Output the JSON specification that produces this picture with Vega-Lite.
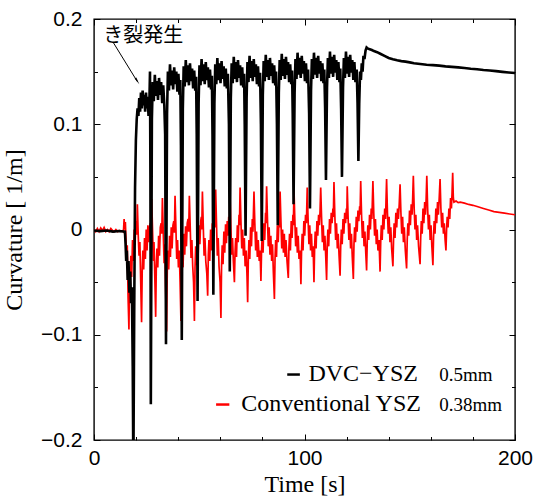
{
"$schema": "https://vega.github.io/schema/vega-lite/v6.json",
"width": 421, "height": 421,
"autosize": {"type": "none"},
"padding": {"left": 94, "top": 19, "right": 21, "bottom": 58},
"background": "white",
"config": {
  "view": {"stroke": "black", "strokeWidth": 1.4},
  "axis": {"domain": false, "grid": false, "tickColor": "black", "tickWidth": 1, "labelColor": "black", "labelFont": "Liberation Sans", "labelFontSize": 21, "labelFlush": false, "labelOverlap": false, "titleFont": "Liberation Serif", "titleFontSize": 24, "titleFontWeight": "normal", "titleColor": "black"}
},
"datasets": {
  "red": [
{"t":0,"v":0.0},{"t":0.8,"v":-0.002},{"t":1.6,"v":0.001},{"t":2.4,"v":-0.002},{"t":3.2,"v":0.0015},{"t":4.0,"v":-0.001},{"t":4.8,"v":0.002},{"t":5.6,"v":-0.002},{"t":6.4,"v":0.0},{"t":7.2,"v":-0.002},{"t":8.0,"v":0.001},{"t":8.8,"v":-0.001},{"t":9.6,"v":-0.002},{"t":10.4,"v":0.0},{"t":11.2,"v":-0.002},{"t":12.0,"v":-0.001},{"t":12.8,"v":-0.002},{"t":13.6,"v":-0.001},{"t":14.0,"v":-0.002},{"t":14.3,"v":0.010},{"t":14.6,"v":0.0},{"t":14.9,"v":0.007},{"t":15.2,"v":-0.01},{"t":15.5,"v":-0.03},{"t":15.8,"v":-0.015},{"t":16.2,"v":-0.065},{"t":16.6,"v":-0.095},{"t":16.9,"v":-0.04},{"t":17.2,"v":-0.06},{"t":17.5,"v":-0.025},{"t":17.9,"v":-0.045},{"t":18.3,"v":-0.01},{"t":18.7,"v":-0.03},{"t":19.1,"v":0.0},{"t":19.5,"v":-0.015},{"t":19.9,"v":0.008},{"t":20.3,"v":-0.005},{"t":20.6,"v":0.024},{"t":21.0,"v":-0.005},{"t":21.4,"v":-0.025},{"t":21.8,"v":-0.012},{"t":22.2,"v":-0.05},{"t":22.6,"v":-0.088},
{"t":22.9,"v":-0.04},{"t":23.2,"v":-0.02},{"t":23.6,"v":-0.038},{"t":24.0,"v":-0.008},{"t":24.4,"v":-0.028},{"t":24.8,"v":0.0},{"t":25.2,"v":-0.02},{"t":25.6,"v":0.004},{"t":26.0,"v":-0.012},{"t":26.4,"v":0.002},{"t":26.8,"v":0.006},{"t":27.1,"v":-0.004},{"t":27.4,"v":0.029},{"t":27.8,"v":0.0},{"t":28.2,"v":-0.03},{"t":28.5,"v":-0.012},{"t":28.9,"v":-0.046},{"t":29.3,"v":-0.083},
{"t":29.6,"v":-0.035},{"t":29.9,"v":-0.018},{"t":30.3,"v":-0.036},{"t":30.7,"v":-0.006},{"t":31.1,"v":-0.025},{"t":31.5,"v":0.002},{"t":31.9,"v":0.006},{"t":32.2,"v":-0.004},{"t":32.5,"v":0.03},{"t":32.9,"v":-0.002},{"t":33.3,"v":-0.032},{"t":33.6,"v":-0.014},{"t":34.0,"v":-0.055},{"t":34.5,"v":-0.097},
{"t":34.8,"v":-0.04},{"t":35.1,"v":-0.02},{"t":35.5,"v":-0.038},{"t":35.9,"v":-0.006},{"t":36.3,"v":-0.026},{"t":36.7,"v":0.002},{"t":37.1,"v":-0.018},{"t":37.5,"v":0.004},{"t":37.9,"v":0.008},{"t":38.2,"v":-0.003},{"t":38.5,"v":0.032},{"t":38.9,"v":0.002},{"t":39.3,"v":-0.028},{"t":39.7,"v":-0.01},{"t":40.1,"v":-0.036},{"t":40.5,"v":-0.02},{"t":40.9,"v":-0.05},{"t":41.3,"v":-0.087},
{"t":41.6,"v":-0.038},{"t":41.9,"v":-0.018},{"t":42.3,"v":-0.036},{"t":42.7,"v":-0.004},{"t":43.1,"v":-0.024},{"t":43.5,"v":0.003},{"t":43.9,"v":-0.016},{"t":44.3,"v":0.006},{"t":44.7,"v":0.01},{"t":45.0,"v":-0.002},{"t":45.3,"v":0.032},{"t":45.7,"v":0.003},{"t":46.1,"v":-0.027},{"t":46.5,"v":-0.01},{"t":46.9,"v":-0.035},{"t":47.3,"v":-0.05},{"t":47.7,"v":-0.087},
{"t":48.0,"v":-0.036},{"t":48.3,"v":-0.016},{"t":48.7,"v":-0.034},{"t":49.1,"v":-0.003},{"t":49.5,"v":-0.022},{"t":49.9,"v":0.004},{"t":50.3,"v":-0.014},{"t":50.7,"v":0.008},{"t":51.0,"v":0.012},{"t":51.2,"v":0.0},{"t":51.5,"v":0.036},{"t":51.9,"v":0.004},{"t":52.3,"v":-0.025},{"t":52.7,"v":-0.008},{"t":53.1,"v":-0.03},{"t":53.6,"v":-0.042},{"t":54.0,"v":-0.063},
{"t":54.3,"v":-0.025},{"t":54.6,"v":-0.01},{"t":55.0,"v":-0.03},{"t":55.4,"v":0.0},{"t":55.8,"v":-0.02},{"t":56.2,"v":0.006},{"t":56.6,"v":-0.012},{"t":57.0,"v":0.01},{"t":57.3,"v":0.014},{"t":57.5,"v":0.002},{"t":57.8,"v":0.038},{"t":58.2,"v":0.005},{"t":58.6,"v":-0.025},{"t":59.0,"v":-0.008},{"t":59.4,"v":-0.035},{"t":59.9,"v":-0.05},{"t":60.3,"v":-0.084},
{"t":60.6,"v":-0.035},{"t":60.9,"v":-0.015},{"t":61.3,"v":-0.033},{"t":61.7,"v":-0.002},{"t":62.1,"v":-0.022},{"t":62.5,"v":0.005},{"t":62.9,"v":-0.013},{"t":63.3,"v":0.008},{"t":63.7,"v":-0.006},{"t":64.0,"v":0.012},{"t":64.3,"v":0.0},{"t":64.6,"v":0.035},{"t":65.0,"v":0.004},{"t":65.4,"v":-0.024},{"t":65.8,"v":-0.008},{"t":66.2,"v":-0.03},{"t":66.7,"v":-0.05},
{"t":67.0,"v":-0.022},{"t":67.3,"v":-0.008},{"t":67.7,"v":-0.026},{"t":68.1,"v":0.004},{"t":68.5,"v":-0.012},{"t":68.9,"v":0.014},{"t":69.1,"v":0.004},{"t":69.4,"v":0.04},{"t":69.8,"v":0.008},{"t":70.2,"v":-0.018},{"t":70.6,"v":0.0},{"t":71.0,"v":-0.025},{"t":71.4,"v":-0.008},{"t":71.8,"v":-0.035},{"t":72.3,"v":-0.02},{"t":72.7,"v":-0.045},{"t":73.0,"v":-0.069},
{"t":73.3,"v":-0.03},{"t":73.6,"v":-0.01},{"t":74.0,"v":-0.028},{"t":74.4,"v":0.002},{"t":74.8,"v":-0.016},{"t":75.2,"v":0.01},{"t":75.5,"v":-0.002},{"t":75.7,"v":0.012},{"t":76.0,"v":0.036},{"t":76.4,"v":0.006},{"t":76.8,"v":-0.02},{"t":77.2,"v":-0.002},{"t":77.6,"v":-0.026},{"t":78.0,"v":-0.01},{"t":78.5,"v":-0.03},{"t":78.9,"v":-0.02},{"t":79.3,"v":-0.049},
{"t":79.6,"v":-0.02},{"t":79.9,"v":-0.006},{"t":80.3,"v":-0.022},{"t":80.7,"v":0.006},{"t":81.1,"v":-0.01},{"t":81.5,"v":0.016},{"t":81.7,"v":0.006},{"t":82.0,"v":0.041},{"t":82.4,"v":0.01},{"t":82.8,"v":-0.016},{"t":83.2,"v":0.002},{"t":83.6,"v":-0.024},{"t":84.0,"v":-0.006},{"t":84.4,"v":-0.03},{"t":84.8,"v":-0.014},{"t":85.2,"v":-0.04},{"t":85.7,"v":-0.066},
{"t":86.0,"v":-0.028},{"t":86.3,"v":-0.01},{"t":86.7,"v":-0.026},{"t":87.1,"v":0.004},{"t":87.5,"v":-0.012},{"t":87.9,"v":0.012},{"t":88.1,"v":0.002},{"t":88.4,"v":0.036},{"t":88.8,"v":0.008},{"t":89.2,"v":-0.018},{"t":89.6,"v":0.0},{"t":90.0,"v":-0.022},{"t":90.4,"v":-0.004},{"t":90.8,"v":-0.026},{"t":91.2,"v":-0.01},{"t":91.7,"v":-0.03},{"t":92.3,"v":-0.046},
{"t":92.6,"v":-0.018},{"t":92.9,"v":-0.004},{"t":93.3,"v":-0.02},{"t":93.7,"v":0.008},{"t":94.1,"v":-0.008},{"t":94.5,"v":0.014},{"t":94.7,"v":0.004},{"t":95.0,"v":0.038},{"t":95.4,"v":0.01},{"t":95.8,"v":-0.016},{"t":96.2,"v":0.002},{"t":96.6,"v":-0.022},{"t":97.0,"v":-0.006},{"t":97.4,"v":-0.028},{"t":97.9,"v":-0.02},{"t":98.3,"v":-0.052},
{"t":98.6,"v":-0.02},{"t":98.9,"v":-0.004},{"t":99.3,"v":-0.02},{"t":99.7,"v":0.008},{"t":100.1,"v":-0.006},{"t":100.5,"v":0.014},{"t":100.9,"v":0.006},{"t":101.3,"v":0.04},{"t":101.7,"v":0.01},{"t":102.1,"v":-0.014},{"t":102.5,"v":0.004},{"t":102.9,"v":-0.02},{"t":103.3,"v":-0.004},{"t":103.7,"v":-0.026},{"t":104.1,"v":-0.016},{"t":104.5,"v":-0.05},
{"t":104.8,"v":-0.018},{"t":105.1,"v":-0.002},{"t":105.5,"v":-0.018},{"t":105.9,"v":0.008},{"t":106.3,"v":-0.006},{"t":106.7,"v":0.014},{"t":107.1,"v":0.004},{"t":107.4,"v":0.018},{"t":107.7,"v":0.04},{"t":108.1,"v":0.012},{"t":108.5,"v":-0.012},{"t":108.9,"v":0.004},{"t":109.3,"v":-0.02},{"t":109.7,"v":-0.006},{"t":110.1,"v":-0.026},{"t":110.5,"v":-0.048},
{"t":110.8,"v":-0.016},{"t":111.1,"v":0.0},{"t":111.5,"v":-0.016},{"t":111.9,"v":0.01},{"t":112.3,"v":-0.004},{"t":112.7,"v":0.016},{"t":113.1,"v":0.006},{"t":113.5,"v":0.02},{"t":113.7,"v":0.012},{"t":114.0,"v":0.045},{"t":114.4,"v":0.014},{"t":114.8,"v":-0.01},{"t":115.2,"v":0.006},{"t":115.6,"v":-0.018},{"t":116.0,"v":-0.004},{"t":116.4,"v":-0.024},{"t":116.9,"v":-0.044},
{"t":117.2,"v":-0.016},{"t":117.5,"v":0.0},{"t":117.9,"v":-0.014},{"t":118.3,"v":0.01},{"t":118.7,"v":-0.004},{"t":119.1,"v":0.016},{"t":119.5,"v":0.006},{"t":119.9,"v":0.02},{"t":120.1,"v":0.01},{"t":120.3,"v":0.041},{"t":120.7,"v":0.012},{"t":121.1,"v":-0.01},{"t":121.5,"v":0.006},{"t":121.9,"v":-0.018},{"t":122.3,"v":-0.004},{"t":122.7,"v":-0.026},{"t":123.2,"v":-0.047},
{"t":123.5,"v":-0.014},{"t":123.8,"v":0.002},{"t":124.2,"v":-0.012},{"t":124.6,"v":0.012},{"t":125.0,"v":-0.002},{"t":125.4,"v":0.018},{"t":125.8,"v":0.008},{"t":126.2,"v":0.022},{"t":126.4,"v":0.014},{"t":126.7,"v":0.046},{"t":127.1,"v":0.014},{"t":127.5,"v":-0.008},{"t":127.9,"v":0.008},{"t":128.3,"v":-0.016},{"t":128.7,"v":-0.002},{"t":129.1,"v":-0.022},{"t":129.5,"v":-0.039},
{"t":129.8,"v":-0.012},{"t":130.1,"v":0.004},{"t":130.5,"v":-0.01},{"t":130.9,"v":0.014},{"t":131.3,"v":0.0},{"t":131.7,"v":0.02},{"t":132.0,"v":0.01},{"t":132.2,"v":0.024},{"t":132.5,"v":0.046},{"t":132.9,"v":0.016},{"t":133.3,"v":-0.006},{"t":133.7,"v":0.01},{"t":134.1,"v":-0.014},{"t":134.5,"v":0.0},{"t":134.9,"v":-0.02},{"t":135.4,"v":-0.01},{"t":135.9,"v":-0.04},
{"t":136.2,"v":-0.012},{"t":136.5,"v":0.004},{"t":136.9,"v":-0.01},{"t":137.3,"v":0.014},{"t":137.7,"v":0.0},{"t":138.1,"v":0.02},{"t":138.5,"v":0.01},{"t":138.7,"v":0.026},{"t":139.0,"v":0.048},{"t":139.4,"v":0.016},{"t":139.8,"v":-0.004},{"t":140.2,"v":0.012},{"t":140.6,"v":-0.012},{"t":141.0,"v":0.002},{"t":141.4,"v":-0.018},{"t":142.0,"v":-0.035},
{"t":142.3,"v":-0.01},{"t":142.6,"v":0.006},{"t":143.0,"v":-0.008},{"t":143.4,"v":0.016},{"t":143.8,"v":0.002},{"t":144.2,"v":0.02},{"t":144.6,"v":0.01},{"t":145.0,"v":0.024},{"t":145.4,"v":0.043},{"t":145.8,"v":0.016},{"t":146.2,"v":-0.004},{"t":146.6,"v":0.012},{"t":147.0,"v":-0.012},{"t":147.4,"v":0.002},{"t":147.9,"v":-0.02},{"t":148.5,"v":-0.037},
{"t":148.8,"v":-0.01},{"t":149.1,"v":0.006},{"t":149.5,"v":-0.006},{"t":149.9,"v":0.018},{"t":150.3,"v":0.004},{"t":150.7,"v":0.024},{"t":151.1,"v":0.014},{"t":151.4,"v":0.03},{"t":151.7,"v":0.051},{"t":152.1,"v":0.02},{"t":152.5,"v":0.0},{"t":152.9,"v":0.014},{"t":153.3,"v":-0.01},{"t":153.7,"v":0.004},{"t":154.2,"v":-0.016},{"t":154.9,"v":-0.033},
{"t":155.2,"v":-0.008},{"t":155.5,"v":0.008},{"t":155.9,"v":-0.004},{"t":156.3,"v":0.02},{"t":156.7,"v":0.006},{"t":157.1,"v":0.026},{"t":157.5,"v":0.014},{"t":157.8,"v":0.03},{"t":158.1,"v":0.051},{"t":158.5,"v":0.02},{"t":158.9,"v":0.0},{"t":159.3,"v":0.014},{"t":159.7,"v":-0.01},{"t":160.1,"v":0.004},{"t":160.5,"v":-0.016},{"t":161.0,"v":-0.034},
{"t":161.3,"v":-0.008},{"t":161.6,"v":0.008},{"t":162.0,"v":-0.004},{"t":162.4,"v":0.02},{"t":162.8,"v":0.006},{"t":163.2,"v":0.026},{"t":163.6,"v":0.014},{"t":164.0,"v":0.03},{"t":164.4,"v":0.048},{"t":164.8,"v":0.02},{"t":165.2,"v":0.002},{"t":165.6,"v":0.016},{"t":166.0,"v":-0.004},{"t":166.4,"v":0.006},{"t":166.8,"v":-0.01},{"t":167.2,"v":-0.02},
{"t":167.5,"v":0.0},{"t":167.8,"v":0.012},{"t":168.2,"v":0.002},{"t":168.6,"v":0.02},{"t":169.0,"v":0.01},{"t":169.4,"v":0.03},{"t":169.8,"v":0.02},{"t":170.1,"v":0.035},{"t":170.4,"v":0.054},{"t":170.7,"v":0.03},{"t":171.0,"v":0.026},{"t":172.0,"v":0.027},{"t":173.0,"v":0.0255},{"t":174.0,"v":0.026},{"t":176.0,"v":0.025},{"t":178.0,"v":0.0238},{"t":180.0,"v":0.023},{"t":182.0,"v":0.0218},{"t":185.0,"v":0.02},{"t":187.5,"v":0.0185},{"t":190.0,"v":0.017},{"t":192.5,"v":0.0162},{"t":195.0,"v":0.0155},{"t":197.5,"v":0.0147},{"t":200.0,"v":0.014}
  ],
  "black": [
{"t":0,"v":-0.001},{"t":3,"v":-0.0015},{"t":6,"v":-0.001},{"t":9,"v":-0.002},{"t":12,"v":-0.0015},{"t":14.7,"v":-0.002},{"t":15.0,"v":-0.014},{"t":15.3,"v":-0.03},{"t":15.6,"v":-0.02},{"t":16.0,"v":-0.048},{"t":16.4,"v":-0.03},{"t":16.8,"v":-0.06},{"t":17.2,"v":-0.04},{"t":17.6,"v":-0.07},{"t":18.0,"v":-0.055},{"t":18.4,"v":-0.13},{"t":18.7,"v":-0.23},{"t":19.1,"v":-0.08},{"t":19.5,"v":0.04},{"t":19.9,"v":0.085},{"t":20.3,"v":0.105},{"t":20.7,"v":0.115},{"t":21.1,"v":0.108},{"t":21.5,"v":0.125},{"t":21.9,"v":0.112},{"t":22.3,"v":0.13},{"t":22.7,"v":0.115},{"t":23.1,"v":0.132},{"t":23.5,"v":0.118},{"t":23.9,"v":0.128},{"t":24.3,"v":0.112},{"t":24.7,"v":0.13},{"t":25.1,"v":0.115},{"t":25.5,"v":0.126},{"t":25.9,"v":0.108},{"t":26.3,"v":0.12},{"t":26.6,"v":0.15},{"t":26.8,"v":0.05},{"t":27.0,"v":-0.166},
{"t":27.5,"v":0.105},{"t":27.9,"v":0.14},{"t":28.4,"v":0.122},{"t":28.9,"v":0.147},{"t":29.4,"v":0.127},{"t":29.9,"v":0.141},{"t":30.4,"v":0.123},{"t":30.9,"v":0.144},{"t":31.4,"v":0.128},{"t":31.9,"v":0.14},{"t":32.4,"v":0.12},{"t":32.9,"v":0.137},{"t":33.4,"v":0.118},{"t":33.8,"v":0.09},{"t":34.2,"v":-0.109},
{"t":34.7,"v":0.11},{"t":35.1,"v":0.15},{"t":35.6,"v":0.132},{"t":36.1,"v":0.157},{"t":36.6,"v":0.137},{"t":37.1,"v":0.151},{"t":37.6,"v":0.133},{"t":38.1,"v":0.154},{"t":38.6,"v":0.138},{"t":39.1,"v":0.15},{"t":39.6,"v":0.131},{"t":40.1,"v":0.148},{"t":40.6,"v":0.128},{"t":41.0,"v":0.142},{"t":41.3,"v":0.08},{"t":41.7,"v":-0.105},
{"t":42.2,"v":0.115},{"t":42.6,"v":0.155},{"t":43.1,"v":0.136},{"t":43.6,"v":0.161},{"t":44.1,"v":0.14},{"t":44.6,"v":0.156},{"t":45.1,"v":0.137},{"t":45.6,"v":0.158},{"t":46.1,"v":0.141},{"t":46.6,"v":0.153},{"t":47.1,"v":0.134},{"t":47.6,"v":0.151},{"t":48.1,"v":0.132},{"t":48.5,"v":0.145},{"t":48.8,"v":0.09},{"t":49.2,"v":-0.068},
{"t":49.7,"v":0.12},{"t":50.1,"v":0.156},{"t":50.6,"v":0.137},{"t":51.1,"v":0.162},{"t":51.6,"v":0.141},{"t":52.1,"v":0.157},{"t":52.6,"v":0.138},{"t":53.1,"v":0.159},{"t":53.6,"v":0.142},{"t":54.1,"v":0.154},{"t":54.6,"v":0.135},{"t":55.1,"v":0.152},{"t":55.6,"v":0.133},{"t":56.0,"v":0.146},{"t":56.3,"v":0.09},{"t":56.7,"v":-0.062},
{"t":57.2,"v":0.12},{"t":57.6,"v":0.157},{"t":58.1,"v":0.138},{"t":58.6,"v":0.163},{"t":59.1,"v":0.142},{"t":59.6,"v":0.158},{"t":60.1,"v":0.139},{"t":60.6,"v":0.16},{"t":61.1,"v":0.143},{"t":61.6,"v":0.155},{"t":62.1,"v":0.136},{"t":62.6,"v":0.153},{"t":63.1,"v":0.134},{"t":63.6,"v":0.148},{"t":64.1,"v":0.1},{"t":64.5,"v":-0.04},
{"t":65.0,"v":0.125},{"t":65.4,"v":0.158},{"t":65.9,"v":0.139},{"t":66.4,"v":0.164},{"t":66.9,"v":0.143},{"t":67.4,"v":0.159},{"t":67.9,"v":0.14},{"t":68.4,"v":0.161},{"t":68.9,"v":0.144},{"t":69.4,"v":0.156},{"t":69.9,"v":0.137},{"t":70.4,"v":0.154},{"t":70.9,"v":0.135},{"t":71.3,"v":0.148},{"t":71.6,"v":0.1},{"t":72.0,"v":-0.006},
{"t":72.5,"v":0.125},{"t":72.9,"v":0.159},{"t":73.4,"v":0.14},{"t":73.9,"v":0.165},{"t":74.4,"v":0.144},{"t":74.9,"v":0.16},{"t":75.4,"v":0.141},{"t":75.9,"v":0.162},{"t":76.4,"v":0.145},{"t":76.9,"v":0.157},{"t":77.4,"v":0.138},{"t":77.9,"v":0.155},{"t":78.4,"v":0.136},{"t":78.9,"v":0.149},{"t":79.3,"v":0.1},{"t":79.7,"v":-0.011},
{"t":80.2,"v":0.128},{"t":80.6,"v":0.16},{"t":81.1,"v":0.141},{"t":81.6,"v":0.166},{"t":82.1,"v":0.145},{"t":82.6,"v":0.161},{"t":83.1,"v":0.142},{"t":83.6,"v":0.163},{"t":84.1,"v":0.146},{"t":84.6,"v":0.158},{"t":85.1,"v":0.139},{"t":85.6,"v":0.156},{"t":86.1,"v":0.137},{"t":86.5,"v":0.15},{"t":86.9,"v":0.1},{"t":87.3,"v":0.004},
{"t":87.8,"v":0.13},{"t":88.2,"v":0.161},{"t":88.7,"v":0.142},{"t":89.2,"v":0.167},{"t":89.7,"v":0.146},{"t":90.2,"v":0.162},{"t":90.7,"v":0.143},{"t":91.2,"v":0.164},{"t":91.7,"v":0.147},{"t":92.2,"v":0.159},{"t":92.7,"v":0.14},{"t":93.2,"v":0.157},{"t":93.7,"v":0.138},{"t":94.1,"v":0.151},{"t":94.4,"v":0.11},{"t":94.8,"v":0.024},
{"t":95.3,"v":0.13},{"t":95.7,"v":0.162},{"t":96.2,"v":0.143},{"t":96.7,"v":0.168},{"t":97.2,"v":0.147},{"t":97.7,"v":0.163},{"t":98.2,"v":0.144},{"t":98.7,"v":0.165},{"t":99.2,"v":0.148},{"t":99.7,"v":0.16},{"t":100.2,"v":0.141},{"t":100.7,"v":0.158},{"t":101.2,"v":0.139},{"t":101.7,"v":0.152},{"t":102.2,"v":0.11},{"t":102.6,"v":0.02},
{"t":103.1,"v":0.132},{"t":103.5,"v":0.162},{"t":104.0,"v":0.143},{"t":104.5,"v":0.168},{"t":105.0,"v":0.147},{"t":105.5,"v":0.163},{"t":106.0,"v":0.144},{"t":106.5,"v":0.165},{"t":107.0,"v":0.148},{"t":107.5,"v":0.16},{"t":108.0,"v":0.141},{"t":108.5,"v":0.158},{"t":109.0,"v":0.139},{"t":109.4,"v":0.152},{"t":109.8,"v":0.115},{"t":110.2,"v":0.047},
{"t":110.7,"v":0.135},{"t":111.1,"v":0.163},{"t":111.6,"v":0.144},{"t":112.1,"v":0.169},{"t":112.6,"v":0.148},{"t":113.1,"v":0.164},{"t":113.6,"v":0.145},{"t":114.1,"v":0.166},{"t":114.6,"v":0.149},{"t":115.1,"v":0.161},{"t":115.6,"v":0.142},{"t":116.1,"v":0.159},{"t":116.6,"v":0.14},{"t":117.0,"v":0.153},{"t":117.4,"v":0.115},{"t":117.8,"v":0.05},
{"t":118.3,"v":0.135},{"t":118.7,"v":0.163},{"t":119.2,"v":0.144},{"t":119.7,"v":0.169},{"t":120.2,"v":0.148},{"t":120.7,"v":0.164},{"t":121.2,"v":0.145},{"t":121.7,"v":0.166},{"t":122.2,"v":0.149},{"t":122.7,"v":0.161},{"t":123.2,"v":0.142},{"t":123.7,"v":0.159},{"t":124.2,"v":0.14},{"t":124.8,"v":0.152},{"t":125.2,"v":0.12},{"t":125.6,"v":0.065},
{"t":126.0,"v":0.12},{"t":126.4,"v":0.15},{"t":126.8,"v":0.142},{"t":127.2,"v":0.158},{"t":127.6,"v":0.15},{"t":128.0,"v":0.165},{"t":128.5,"v":0.162},{"t":129.0,"v":0.17},{"t":129.5,"v":0.173},{"t":130.2,"v":0.1718},{"t":131,"v":0.1712},{"t":132,"v":0.1705},{"t":133,"v":0.1695},{"t":134.5,"v":0.1685},{"t":136,"v":0.167},{"t":138,"v":0.165},{"t":140,"v":0.163},{"t":142,"v":0.1618},{"t":144,"v":0.1608},{"t":146,"v":0.16},{"t":148,"v":0.1595},{"t":150,"v":0.1588},{"t":152,"v":0.158},{"t":155,"v":0.1573},{"t":158,"v":0.1566},{"t":161,"v":0.1562},{"t":164,"v":0.1557},{"t":167,"v":0.155},{"t":170,"v":0.1545},{"t":173,"v":0.154},{"t":176,"v":0.1534},{"t":179,"v":0.1527},{"t":182,"v":0.1522},{"t":185,"v":0.1515},{"t":188,"v":0.151},{"t":191,"v":0.1505},{"t":194,"v":0.1498},{"t":197,"v":0.1492},{"t":200,"v":0.1487}
  ]
},
"layer": [
  {
    "data": {"name": "red"},
    "mark": {"type": "line", "color": "#ff0000", "strokeWidth": 1.7, "clip": true},
    "encoding": {
      "x": {"field": "t", "type": "quantitative", "scale": {"domain": [0, 200], "nice": false},
        "axis": {"orient": "bottom", "title": "Time [s]", "values": [0,20,40,60,80,100,120,140,160,180,200],
          "labelExpr": "datum.value % 100 === 0 ? datum.label : ''",
          "tickSize": {"condition": {"test": "datum.value % 100 === 0", "value": -6}, "value": -3.5},
          "labelPadding": 13, "titlePadding": 2}},
      "y": {"field": "v", "type": "quantitative", "scale": {"domain": [-0.2, 0.2], "nice": false},
        "axis": {"orient": "left", "title": "Curvature [ 1/m]", "values": [-0.2,-0.15,-0.1,-0.05,0,0.05,0.1,0.15,0.2],
          "labelExpr": "abs(round(datum.value*100)) % 10 === 0 ? format(datum.value, '~g') : ''",
          "tickSize": {"condition": {"test": "abs(round(datum.value*100)) % 10 === 0", "value": -6}, "value": -3.5},
          "labelPadding": 18, "titlePadding": 14}}
    }
  },
  {
    "data": {"name": "black"},
    "mark": {"type": "line", "color": "#000000", "strokeWidth": 2.6, "clip": true},
    "encoding": {
      "x": {"field": "t", "type": "quantitative",
        "axis": {"orient": "top", "title": null, "labels": false, "values": [0,20,40,60,80,100,120,140,160,180,200],
          "tickSize": {"condition": {"test": "datum.value % 100 === 0", "value": -6}, "value": -3.5}}},
      "y": {"field": "v", "type": "quantitative",
        "axis": {"orient": "right", "title": null, "labels": false, "values": [-0.2,-0.15,-0.1,-0.05,0,0.05,0.1,0.15,0.2],
          "tickSize": {"condition": {"test": "abs(round(datum.value*100)) % 10 === 0", "value": -6}, "value": -3.5}}}
    }
  },
  {
    "data": {"values": [{}]},
    "mark": {"type": "text", "text": "き裂発生", "font": "Noto Sans CJK JP", "fontSize": 20, "align": "left", "baseline": "middle", "color": "black"},
    "encoding": {"x": {"datum": 4.4, "type": "quantitative", "axis": null}, "y": {"datum": 0.184, "type": "quantitative", "axis": null}}
  },
  {
    "data": {"values": [{}]},
    "mark": {"type": "rule", "color": "black", "strokeWidth": 1},
    "encoding": {"x": {"datum": 9.2, "type": "quantitative", "axis": null}, "y": {"datum": 0.1775, "type": "quantitative", "axis": null}, "x2": {"datum": 20.6}, "y2": {"datum": 0.1405}}
  },
  {
    "data": {"values": [{}]},
    "mark": {"type": "point", "shape": "wedge", "filled": true, "color": "black", "size": 70, "angle": 148, "opacity": 1},
    "encoding": {"x": {"datum": 20.3, "type": "quantitative", "axis": null}, "y": {"datum": 0.142, "type": "quantitative", "axis": null}}
  },
  {
    "data": {"values": [{}]},
    "mark": {"type": "text", "text": "DVC−YSZ", "font": "Liberation Serif", "fontSize": 24, "align": "right", "baseline": "alphabetic", "color": "black"},
    "encoding": {"x": {"datum": 153.9, "type": "quantitative", "axis": null}, "y": {"datum": -0.1441, "type": "quantitative", "axis": null}}
  },
  {
    "data": {"values": [{}]},
    "mark": {"type": "text", "text": "Conventional YSZ", "font": "Liberation Serif", "fontSize": 24, "align": "right", "baseline": "alphabetic", "color": "black"},
    "encoding": {"x": {"datum": 155.3, "type": "quantitative", "axis": null}, "y": {"datum": -0.1726, "type": "quantitative", "axis": null}}
  },
  {
    "data": {"values": [{}]},
    "mark": {"type": "text", "text": "0.5mm", "font": "Liberation Serif", "fontSize": 19, "align": "left", "baseline": "alphabetic", "color": "black"},
    "encoding": {"x": {"datum": 164.0, "type": "quantitative", "axis": null}, "y": {"datum": -0.1435, "type": "quantitative", "axis": null}}
  },
  {
    "data": {"values": [{}]},
    "mark": {"type": "text", "text": "0.38mm", "font": "Liberation Serif", "fontSize": 19, "align": "left", "baseline": "alphabetic", "color": "black"},
    "encoding": {"x": {"datum": 164.0, "type": "quantitative", "axis": null}, "y": {"datum": -0.172, "type": "quantitative", "axis": null}}
  },
  {
    "data": {"values": [{}]},
    "mark": {"type": "rule", "color": "black", "strokeWidth": 2.5},
    "encoding": {"x": {"datum": 91.8, "type": "quantitative", "axis": null}, "x2": {"datum": 97.8}, "y": {"datum": -0.1378, "type": "quantitative", "axis": null}}
  },
  {
    "data": {"values": [{}]},
    "mark": {"type": "rule", "color": "#ff0000", "strokeWidth": 2.5},
    "encoding": {"x": {"datum": 58.0, "type": "quantitative", "axis": null}, "x2": {"datum": 64.3}, "y": {"datum": -0.1663, "type": "quantitative", "axis": null}}
  }
]
}
